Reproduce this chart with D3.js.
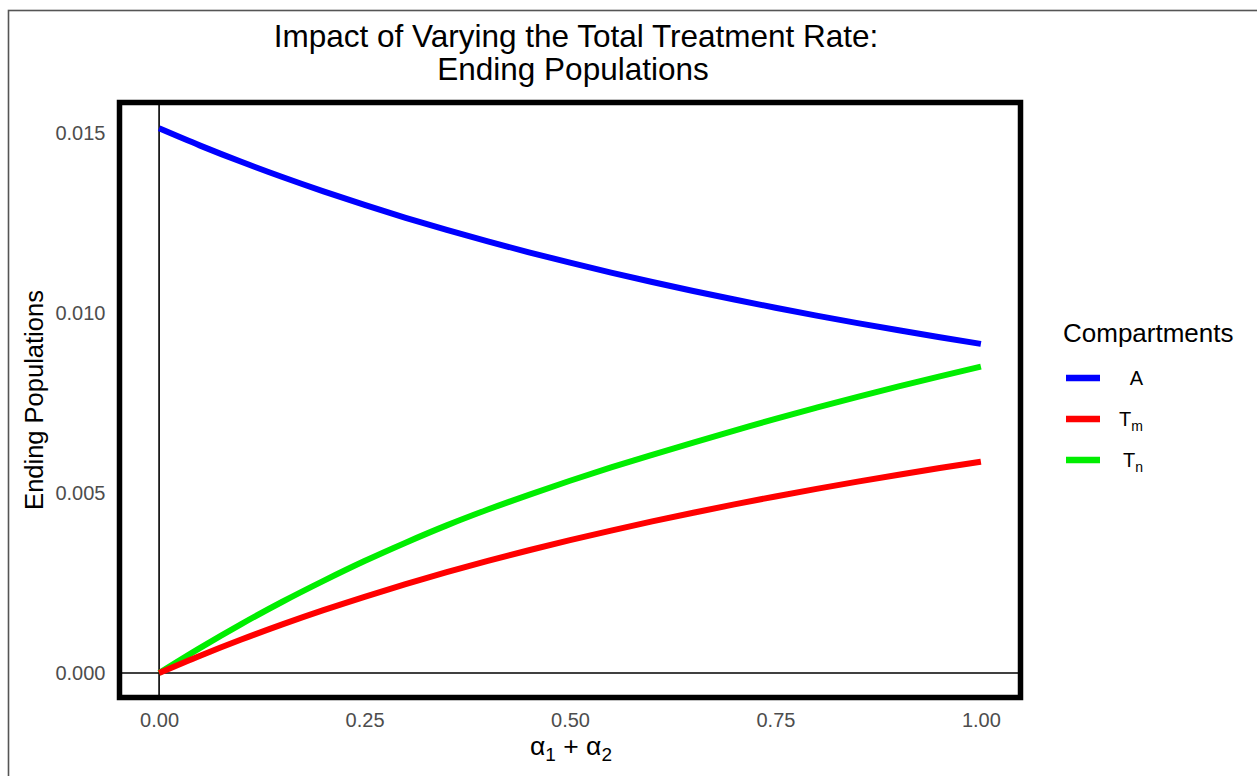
<!DOCTYPE html>
<html>
<head>
<meta charset="utf-8">
<script src="https://cdn.jsdelivr.net/npm/d3@7"></script>
<style>
  html, body { margin: 0; padding: 0; background: #fff; }
  svg { display: block; font-family: "Liberation Sans", Arial, sans-serif; }
</style>
</head>
<body>
<svg id="chart" width="1257" height="776"></svg>
<script>
// ---- data ----
const alphaTotal = [0, 0.05, 0.10, 0.15, 0.20, 0.25, 0.30, 0.35, 0.40, 0.45, 0.50,
                    0.55, 0.60, 0.65, 0.70, 0.75, 0.80, 0.85, 0.90, 0.95, 1.00];
const seriesA  = [0.01513, 0.01465, 0.01420, 0.013777, 0.013378, 0.013001, 0.012645, 0.012308,
                  0.011989, 0.011686, 0.011397, 0.011123, 0.010861, 0.010612, 0.010374,
                  0.010146, 0.009928, 0.009719, 0.009519, 0.009327, 0.009142];
const seriesTm = [0, 0.000480, 0.000929, 0.001350, 0.001745, 0.002117, 0.002468, 0.002799,
                  0.003112, 0.003409, 0.003690, 0.003957, 0.004211, 0.004453, 0.004684,
                  0.004904, 0.005115, 0.005316, 0.005508, 0.005693, 0.005870];
const seriesTn = [0, 0.00070, 0.00136, 0.00198, 0.00256, 0.00311, 0.00362, 0.00410,
                  0.00454, 0.00495, 0.00534, 0.00571, 0.00606, 0.00640, 0.00673,
                  0.00706, 0.00737, 0.00767, 0.00796, 0.00824, 0.00851];
const xTicks = [0, 0.25, 0.5, 0.75, 1.0];
const yTicks = [0, 0.005, 0.010, 0.015];
const seriesNames = ["A", "Tm", "Tn"];
const seriesColors = ["#0000ff", "#ff0000", "#00ee00"];

// ---- layout ----
const svg = d3.select("#chart");
const panel = { left: 119.5, right: 1020.5, top: 102.5, bottom: 697.5 };

const x = d3.scaleLinear().domain([-0.05, 1.05]).range([118, 1022]);
const y = d3.scaleLinear().domain([0, 0.015]).range([673, 133]);

// outer frame
svg.append("rect")
  .attr("x", 8.5).attr("y", 10.5).attr("width", 1400).attr("height", 900)
  .attr("fill", "none").attr("stroke", "#555").attr("stroke-width", 1.6);

// title
const title = svg.append("text").attr("text-anchor", "middle")
  .attr("font-size", 31.5).attr("fill", "#000");
title.append("tspan").attr("x", 576).attr("y", 47).text("Impact of Varying the Total Treatment Rate:");
title.append("tspan").attr("x", 573).attr("y", 80).text("Ending Populations");

// zero lines
svg.append("line")
  .attr("x1", x(0)).attr("x2", x(0)).attr("y1", panel.top).attr("y2", panel.bottom)
  .attr("stroke", "#000").attr("stroke-width", 1.6);
svg.append("line")
  .attr("x1", panel.left).attr("x2", panel.right).attr("y1", y(0)).attr("y2", y(0))
  .attr("stroke", "#000").attr("stroke-width", 1.6);

// series lines
const allSeries = [seriesA, seriesTm, seriesTn];
const line = d3.line().x((d, i) => x(alphaTotal[i])).y(d => y(d)).curve(d3.curveMonotoneX);
[0, 2, 1].forEach(k => {
  svg.append("path").datum(allSeries[k])
    .attr("d", line)
    .attr("fill", "none")
    .attr("stroke", seriesColors[k])
    .attr("stroke-width", 6)
    .attr("stroke-linecap", "butt");
});

// panel border
svg.append("rect")
  .attr("x", panel.left).attr("y", panel.top)
  .attr("width", panel.right - panel.left).attr("height", panel.bottom - panel.top)
  .attr("fill", "none").attr("stroke", "#000").attr("stroke-width", 5.5);

// x axis
const xAxis = d3.axisBottom(x).tickValues(xTicks).tickFormat(d3.format(".2f")).tickSize(0).tickPadding(0);
const gx = svg.append("g").attr("transform", `translate(0, ${panel.bottom + 15})`).call(xAxis);
gx.select(".domain").remove();
gx.selectAll("text").attr("font-size", 20).attr("fill", "#4d4d4d")
  .attr("font-family", "Liberation Sans, Arial, sans-serif").attr("dy", "0.71em");

// y axis
const yAxis = d3.axisLeft(y).tickValues(yTicks).tickFormat(d3.format(".3f")).tickSize(0).tickPadding(0);
const gy = svg.append("g").attr("transform", `translate(${panel.left - 14}, 0)`).call(yAxis);
gy.select(".domain").remove();
gy.selectAll("text").attr("font-size", 20).attr("fill", "#4d4d4d")
  .attr("font-family", "Liberation Sans, Arial, sans-serif");

// y axis title
svg.append("text")
  .attr("transform", `translate(43, ${(panel.top + panel.bottom) / 2}) rotate(-90)`)
  .attr("text-anchor", "middle").attr("font-size", 25.5).attr("fill", "#000")
  .text("Ending Populations");

// x axis title: alpha_1 + alpha_2
const xt = svg.append("text").attr("x", 571).attr("y", 755)
  .attr("text-anchor", "middle").attr("font-size", 26.5).attr("fill", "#000");
xt.append("tspan").text("α");
xt.append("tspan").attr("font-size", 19).attr("dy", 6).text("1");
xt.append("tspan").attr("dy", -6).text(" + α");
xt.append("tspan").attr("font-size", 19).attr("dy", 6).text("2");

// legend
svg.append("text").attr("x", 1063).attr("y", 342)
  .attr("font-size", 26).attr("fill", "#000").text("Compartments");
const legendY = [378, 419, 460];
seriesNames.forEach((name, i) => {
  svg.append("line")
    .attr("x1", 1066).attr("x2", 1100).attr("y1", legendY[i]).attr("y2", legendY[i])
    .attr("stroke", seriesColors[i]).attr("stroke-width", 6.5);
  const t = svg.append("text").attr("x", 1143).attr("y", legendY[i] + 7)
    .attr("text-anchor", "end").attr("font-size", 20).attr("fill", "#000");
  if (name === "A") {
    t.text("A");
  } else {
    t.append("tspan").text("T");
    t.append("tspan").attr("font-size", 14).attr("dy", 5).text(name.slice(1));
  }
});
</script>
</body>
</html>
